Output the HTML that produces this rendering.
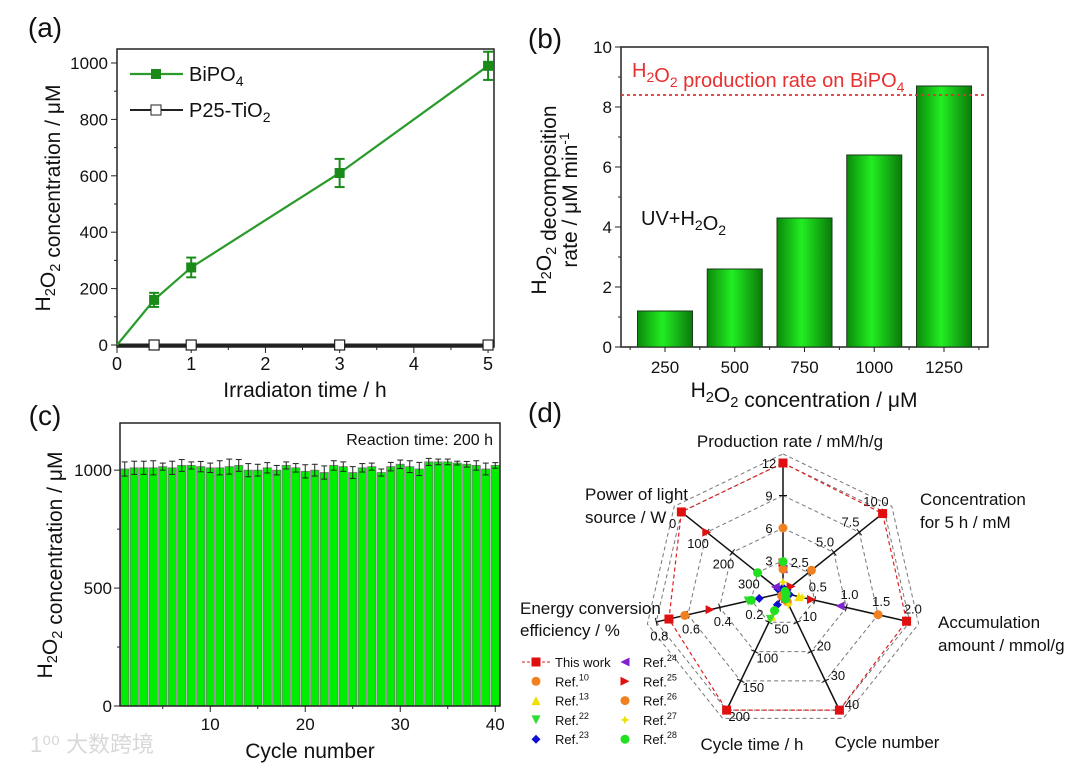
<!DOCTYPE html>
<html><head><meta charset="utf-8">
<style>
html,body{margin:0;padding:0;background:#fff;}
svg{display:block;font-family:"Liberation Sans",Arial,sans-serif;}
</style></head>
<body>
<svg id="fig" width="1080" height="768" viewBox="0 0 1080 768" xmlns="http://www.w3.org/2000/svg">
<defs>
<linearGradient id="barGrad" x1="0" x2="1" y1="0" y2="0">
<stop offset="0" stop-color="#0a8a0a"/><stop offset="0.45" stop-color="#22ee22"/><stop offset="1" stop-color="#0a7a0a"/>
</linearGradient>
</defs>
<g id="pa"></g>
<g id="pb"></g>
<g id="pc"></g>
<g id="pd"></g>
<text x="30" y="752" font-size="22" fill="#d8d8d8" font-family="'Liberation Sans','Noto Sans CJK SC',sans-serif">1⁰⁰ 大数跨境</text>
</svg>
<script>
// ---------- Panel (a) data ----------
const aTimes = [0, 0.5, 1, 3, 5];
const aBiPO4 = [0, 160, 275, 610, 990];
const aBiPO4Err = [0, 25, 35, 50, 50];
const aP25 = [0, 0, 0, 0, 0];
const aXTicks = [0, 1, 2, 3, 4, 5];
const aYTicks = [0, 200, 400, 600, 800, 1000];
// ---------- Panel (b) data ----------
const bCats = [250, 500, 750, 1000, 1250];
const bRates = [1.2, 2.6, 4.3, 6.4, 8.7];
const bRefLine = [8.4];
const bYTicks = [0, 2, 4, 6, 8, 10];
// ---------- Panel (c) data ----------
const cCycles = Array.from({length:40},(_, i)=>i+1);
const cConc = [1005,1010,1010,1010,1015,1010,1020,1020,1015,1010,1010,1015,1020,1000,1000,1010,1000,1020,1010,995,1000,990,1020,1015,990,1010,1015,990,1015,1025,1015,1005,1035,1035,1035,1030,1025,1020,1005,1020];
const cErr = [30,28,28,30,15,28,25,15,22,20,30,32,25,28,25,22,20,15,18,28,25,28,20,20,25,18,15,15,18,18,25,28,15,12,12,8,12,20,25,12];
const cXTicks = [10, 20, 30, 40];
const cYTicks = [0, 500, 1000];
// ---------- Panel (d) data ----------
const dAxes = ["Production rate","Concentration","Accumulation","Cycle number","Cycle time","Energy conversion","Power"];
const dAxisMax = [12, 10, 2, 40, 200, 0.8, 400];
const dThisWork = [12, 9.8, 1.95, 40, 200, 0.72, 0];
const dRef10 = [6, 2.8, 1.5, null, null, 0.62, null];
const dRef13 = [null, null, 0.25, null, 40, null, null];
const dRef22 = [2.2, null, null, null, 45, 0.22, null];
const dRef23 = [0.5, 0.4, 0.1, 0.5, 20, 0.15, 380];
const dRef24 = [2.2, null, 0.9, null, null, null, 370];
const dRef25 = [2.8, 0.8, 0.45, 2, null, 0.46, 100];
const dRef26 = [2.2, null, null, 3, 5, null, null];
const dRef27 = [1.0, null, 0.3, 4, null, null, null];
const dRef28 = [2.9, 0.2, 0.05, 2, 30, 0.2, 300];
const dTickLabels = [["3","6","9","12"],["2.5","5.0","7.5","10.0"],["0.5","1.0","1.5","2.0"],["10","20","30","40"],["50","100","150","200"],["0.2","0.4","0.6","0.8"],["300","200","100","0"]];

const NS="http://www.w3.org/2000/svg";
function mk(parent, tag, attrs, name, inter){
  const e=document.createElementNS(NS,tag);
  for(const k in attrs) e.setAttribute(k, attrs[k]);
  
  
  parent.appendChild(e); return e;
}
function txt(parent, x, y, s, size, name, opts){
  opts=opts||{};
  const t=mk(parent,'text',{x:x,y:y,'font-size':size,fill:opts.fill||'#111','text-anchor':opts.anchor||'middle'},name,false);
  if(opts.rot) t.setAttribute('transform','rotate('+opts.rot+' '+x+' '+y+')');
  t.innerHTML=s; return t;
}
const sub='<tspan font-size="70%" dy="5">2</tspan><tspan dy="-5"></tspan>';
function subn(n){return '<tspan font-size="70%" dy="5">'+n+'</tspan><tspan dy="-5"></tspan>';}

// ===== Panel A =====
(function(){
  const g=document.getElementById('pa');
  const L=117,R=494,T=49,B=347;
  const xs=v=>L+(v-0)/5.08*(R-L);
  const ys=v=>345-(v)*0.282;
  txt(g,45,37,'(a)',28,'panel-label-a');
  mk(g,'rect',{x:L,y:T,width:R-L,height:B-T,fill:'none',stroke:'#222','stroke-width':1.5},'plot-frame-a');
  aXTicks.forEach(v=>{const x=xs(v);
    mk(g,'line',{x1:x,y1:B,x2:x,y2:B+6,stroke:'#222'},'x-tick-a');
    txt(g,x,B+23,String(v),18,'x-tick-label-a');
    if(v<5){const xm=xs(v+0.5);mk(g,'line',{x1:xm,y1:B,x2:xm,y2:B+3,stroke:'#222'},'x-minor-tick-a');}
  });
  aYTicks.forEach(v=>{const y=ys(v);
    mk(g,'line',{x1:L-6,y1:y,x2:L,y2:y,stroke:'#222'},'y-tick-a');
    txt(g,L-9,y+6,String(v),17,'y-tick-label-a',{anchor:'end'});
    if(v<1000){const ym=ys(v+100);mk(g,'line',{x1:L-3,y1:ym,x2:L,y2:ym,stroke:'#222'},'y-minor-tick-a');}
  });
  txt(g,305,397,'Irradiaton time / h',21,'x-axis-title-a');
  txt(g,50,198,'H'+sub+'O'+sub+' concentration / μM',21,'y-axis-title-a',{rot:-90});
  // P25 line
  mk(g,'polyline',{points:aTimes.map((t,i)=>xs(t)+','+ys(aP25[i])).join(' '),fill:'none',stroke:'#222','stroke-width':3},'line-p25');
  aTimes.forEach((t,i)=>{ if(i>0) mk(g,'rect',{x:xs(t)-5,y:ys(aP25[i])-5,width:10,height:10,fill:'#fff',stroke:'#222','stroke-width':1.2},'marker-p25');});
  // BiPO4 smooth line
  let d='M'+xs(0)+','+ys(0);
  for(let i=1;i<aTimes.length;i++){d+=' L'+xs(aTimes[i])+','+ys(aBiPO4[i]);}
  mk(g,'path',{d:d,fill:'none',stroke:'#2a9a2a','stroke-width':2.2},'line-bipo4');
  aTimes.forEach((t,i)=>{
    const x=xs(t),y=ys(aBiPO4[i]),e=aBiPO4Err[i];
    if(i>0){
      mk(g,'line',{x1:x,y1:ys(aBiPO4[i]+e),x2:x,y2:ys(aBiPO4[i]-e),stroke:'#1a8a1a','stroke-width':2},'errorbar-bipo4');
      mk(g,'line',{x1:x-5,y1:ys(aBiPO4[i]+e),x2:x+5,y2:ys(aBiPO4[i]+e),stroke:'#1a8a1a','stroke-width':2},'errorcap-bipo4');
      mk(g,'line',{x1:x-5,y1:ys(aBiPO4[i]-e),x2:x+5,y2:ys(aBiPO4[i]-e),stroke:'#1a8a1a','stroke-width':2},'errorcap-bipo4');
      mk(g,'rect',{x:x-5,y:y-5,width:10,height:10,fill:'#1a8a1a'},'marker-bipo4');
    }
  });
  // legend
  mk(g,'line',{x1:130,y1:74,x2:183,y2:74,stroke:'#2a9a2a','stroke-width':2.2},'legend-line-bipo4');
  mk(g,'rect',{x:151,y:69,width:10,height:10,fill:'#1a8a1a'},'legend-marker-bipo4');
  txt(g,189,81,'BiPO'+subn(4),20,'legend-label-bipo4',{anchor:'start'});
  mk(g,'line',{x1:130,y1:110,x2:183,y2:110,stroke:'#222','stroke-width':2},'legend-line-p25');
  mk(g,'rect',{x:151,y:105,width:10,height:10,fill:'#fff',stroke:'#222'},'legend-marker-p25');
  txt(g,189,117,'P25-TiO'+sub,20,'legend-label-p25',{anchor:'start'});
})();

// ===== Panel B =====
(function(){
  const g=document.getElementById('pb');
  const L=621,R=988,T=47,B=347;
  const xs=v=>665+(v-250)/1000*279;
  const ys=v=>B-v/10*(B-T);
  txt(g,545,48,'(b)',28,'panel-label-b');
  mk(g,'rect',{x:L,y:T,width:R-L,height:B-T,fill:'none',stroke:'#222','stroke-width':1.5},'plot-frame-b');
  bYTicks.forEach(v=>{const y=ys(v);
    mk(g,'line',{x1:L-6,y1:y,x2:L,y2:y,stroke:'#222'},'y-tick-b');
    txt(g,L-9,y+6,String(v),17,'y-tick-label-b',{anchor:'end'});
    if(v<10){mk(g,'line',{x1:L-3,y1:ys(v+1),x2:L,y2:ys(v+1),stroke:'#222'},'y-minor-tick-b');}
  });
  bCats.forEach((c,i)=>{
    const x=xs(c);
    mk(g,'line',{x1:x,y1:B,x2:x,y2:B+5,stroke:'#222'},'x-tick-b');
    txt(g,x,B+26,String(c),17,'x-tick-label-b');
    mk(g,'line',{x1:xs(c-125),y1:B,x2:xs(c-125),y2:B+3,stroke:'#222'},'x-minor-tick-b');
    const w=55;
    mk(g,'rect',{x:x-w/2,y:ys(bRates[i]),width:w,height:ys(0)-ys(bRates[i]),fill:'url(#barGrad)',stroke:'#1a3a1a','stroke-width':1},'bar-'+c);
  });
  mk(g,'line',{x1:xs(1375),y1:B,x2:xs(1375),y2:B+3,stroke:'#222'},'x-minor-tick-b');
  mk(g,'line',{x1:L,y1:ys(bRefLine[0]),x2:R,y2:ys(bRefLine[0]),stroke:'#e83030','stroke-width':1.8,'stroke-dasharray':'3,3'},'reference-line');
  txt(g,632,77,'H'+sub+'O'+sub+' production rate on BiPO'+subn(4),20,'reference-label',{anchor:'start',fill:'#e83030'});
  txt(g,641,225,'UV+H'+sub+'O'+sub,20,'annotation-uv-h2o2',{anchor:'start'});
  txt(g,804,397,'H'+sub+'O'+sub+' concentration / μM',21,'x-axis-title-b');
  txt(g,546,200,'H'+sub+'O'+sub+' decomposition',21,'y-axis-title-b-line1',{rot:-90});
  txt(g,577,200,'rate / μM min<tspan font-size="65%" dy="-8">-1</tspan>',21,'y-axis-title-b-line2',{rot:-90});
})();

// ===== Panel C =====
(function(){
  const g=document.getElementById('pc');
  const L=120,R=500,T=423,B=706;
  const xs=v=>L+(v-0.5)/40*(R-L);
  const ys=v=>B-v/1200*(B-T);
  txt(g,45,425,'(c)',28,'panel-label-c');
  cCycles.forEach((c,i)=>{
    const x=xs(c),w=8.2;
    mk(g,'rect',{x:x-w/2,y:ys(cConc[i]),width:w,height:B-ys(cConc[i]),fill:'#00ee00',stroke:'#777','stroke-width':0.8},'bar-cycle-'+c);
    const y1=ys(cConc[i]+cErr[i]),y2=ys(cConc[i]-cErr[i]);
    mk(g,'line',{x1:x,y1:y1,x2:x,y2:y2,stroke:'#222','stroke-width':1},'errorbar-cycle');
    mk(g,'line',{x1:x-3,y1:y1,x2:x+3,y2:y1,stroke:'#222','stroke-width':1},'errorcap-cycle');
    mk(g,'line',{x1:x-3,y1:y2,x2:x+3,y2:y2,stroke:'#222','stroke-width':1},'errorcap-cycle');
  });
  mk(g,'rect',{x:L,y:T,width:R-L,height:B-T,fill:'none',stroke:'#222','stroke-width':1.5},'plot-frame-c');
  cYTicks.forEach(v=>{const y=ys(v);
    mk(g,'line',{x1:L-6,y1:y,x2:L,y2:y,stroke:'#222'},'y-tick-c');
    txt(g,L-8,y+6,String(v),17,'y-tick-label-c',{anchor:'end'});
    if(v<1000){mk(g,'line',{x1:L-3,y1:ys(v+250),x2:L,y2:ys(v+250),stroke:'#222'},'y-minor-tick-c');}
  });
  cXTicks.forEach(v=>{const x=xs(v);
    mk(g,'line',{x1:x,y1:B,x2:x,y2:B+6,stroke:'#222'},'x-tick-c');
    txt(g,x,B+24,String(v),17,'x-tick-label-c');
    mk(g,'line',{x1:xs(v-5),y1:B,x2:xs(v-5),y2:B+3,stroke:'#222'},'x-minor-tick-c');
  });
  txt(g,493,445,'Reaction time: 200 h',16,'annotation-reaction-time',{anchor:'end'});
  txt(g,310,758,'Cycle number',21,'x-axis-title-c');
  txt(g,52,565,'H'+sub+'O'+sub+' concentration / μM',21,'y-axis-title-c',{rot:-90});
})();

// ===== Panel D (radar) =====
(function(){
  const g=document.getElementById('pd');
  const cx=783,cy=593,Rr=130;
  const ang=i=>(-90+i*360/7)*Math.PI/180;
  const frac=(i,v)=> i===6 ? (400-v)/400 : v/dAxisMax[i];
  const pt=(i,f)=>[cx+Math.cos(ang(i))*Rr*f, cy+Math.sin(ang(i))*Rr*f];
  txt(g,545,422,'(d)',28,'panel-label-d');
  // grid heptagons
  [0.25,0.5,0.75,1.0,1.07].forEach(f=>{
    mk(g,'polygon',{points:dAxes.map((a,i)=>pt(i,f).join(',')).join(' '),fill:'none',stroke:'#777','stroke-width':1,'stroke-dasharray':'4,3'},'radar-grid');
  });
  dAxes.forEach((a,i)=>{
    const p=pt(i,1.0);
    mk(g,'line',{x1:cx,y1:cy,x2:p[0],y2:p[1],stroke:'#111','stroke-width':1.5},'radar-axis-'+i);
    const perp=ang(i)+Math.PI/2;
    for(let k=1;k<=4;k++){
      const q=pt(i,k/4);
      mk(g,'line',{x1:q[0]-Math.cos(perp)*4,y1:q[1]-Math.sin(perp)*4,x2:q[0]+Math.cos(perp)*4,y2:q[1]+Math.sin(perp)*4,stroke:'#111'},'radar-tick');
      const off=perp+Math.PI;
      txt(g,q[0]+Math.cos(off)*14,q[1]+Math.sin(off)*14+5,dTickLabels[i][k-1],13,'radar-tick-label');
    }
  });
  // this work polygon
  mk(g,'polygon',{points:dThisWork.map((v,i)=>pt(i,frac(i,v)).join(',')).join(' '),fill:'none',stroke:'#dd2020','stroke-width':1.2,'stroke-dasharray':'4,3'},'series-this-work');
  function marker(shape,x,y,color,name){
    const s=4.5;let e;
    if(shape==='sq') e=mk(g,'rect',{x:x-s,y:y-s,width:2*s,height:2*s,fill:color},name);
    else if(shape==='ci') e=mk(g,'circle',{cx:x,cy:y,r:s,fill:color},name);
    else{
      const P={up:[[0,-s],[s,s],[-s,s]],dn:[[0,s],[s,-s],[-s,-s]],di:[[0,-s],[s,0],[0,s],[-s,0]],lt:[[-s,0],[s,-s],[s,s]],rt:[[s,0],[-s,-s],[-s,s]],st:[[0,-s],[s*0.3,-s*0.3],[s,0],[s*0.3,s*0.3],[0,s],[-s*0.3,s*0.3],[-s,0],[-s*0.3,-s*0.3]]}[shape];
      e=mk(g,'polygon',{points:P.map(p=>(x+p[0])+','+(y+p[1])).join(' '),fill:color},name);
    }
    return e;
  }
  const series=[
    [dThisWork,'sq','#e01010','marker-this-work'],
    [dRef10,'ci','#f08020','marker-ref10'],
    [dRef13,'up','#f0e000','marker-ref13'],
    [dRef22,'dn','#30dd30','marker-ref22'],
    [dRef23,'di','#1010d0','marker-ref23'],
    [dRef24,'lt','#8020d0','marker-ref24'],
    [dRef25,'rt','#e01010','marker-ref25'],
    [dRef26,'ci','#f08020','marker-ref26'],
    [dRef27,'st','#f0e000','marker-ref27'],
    [dRef28,'ci','#20e020','marker-ref28']
  ];
  series.forEach(s=>{ s[0].forEach((v,i)=>{ if(v===null) return; const p=pt(i,frac(i,v)); marker(s[1],p[0],p[1],s[2],s[3]); }); });
  // axis titles
  txt(g,790,447,'Production rate / mM/h/g',17,'radar-title-production');
  txt(g,920,505,'Concentration',17,'radar-title-concentration',{anchor:'start'});
  txt(g,920,528,'for 5 h / mM',17,'radar-title-concentration-2',{anchor:'start'});
  txt(g,938,628,'Accumulation',17,'radar-title-accumulation',{anchor:'start'});
  txt(g,938,651,'amount / mmol/g',17,'radar-title-accumulation-2',{anchor:'start'});
  txt(g,887,748,'Cycle number',17,'radar-title-cycle-number');
  txt(g,752,750,'Cycle time / h',17,'radar-title-cycle-time');
  txt(g,520,614,'Energy conversion',17,'radar-title-energy',{anchor:'start'});
  txt(g,520,636,'efficiency / %',17,'radar-title-energy-2',{anchor:'start'});
  txt(g,585,500,'Power of light',17,'radar-title-power',{anchor:'start'});
  txt(g,585,523,'source / W',17,'radar-title-power-2',{anchor:'start'});
  // legend
  const legendItems=[['This work','sq','#e01010'],['Ref.<tspan font-size="70%" dy="-6">10</tspan>','ci','#f08020'],['Ref.<tspan font-size="70%" dy="-6">13</tspan>','up','#f0e000'],['Ref.<tspan font-size="70%" dy="-6">22</tspan>','dn','#30dd30'],['Ref.<tspan font-size="70%" dy="-6">23</tspan>','di','#1010d0'],
    ['Ref.<tspan font-size="70%" dy="-6">24</tspan>','lt','#8020d0'],['Ref.<tspan font-size="70%" dy="-6">25</tspan>','rt','#e01010'],['Ref.<tspan font-size="70%" dy="-6">26</tspan>','ci','#f08020'],['Ref.<tspan font-size="70%" dy="-6">27</tspan>','st','#f0e000'],['Ref.<tspan font-size="70%" dy="-6">28</tspan>','ci','#20e020']];
  legendItems.forEach((it,k)=>{
    const col=Math.floor(k/5),row=k%5;
    const mx=col?625:536,y=662+row*19.3;
    if(k===0) mk(g,'line',{x1:522,y1:y,x2:552,y2:y,stroke:'#dd2020','stroke-dasharray':'3,2'},'legend-line-this-work');
    marker(it[1],mx,y,it[2],'legend-marker');
    txt(g,col?643:555,y+5,it[0],13,'legend-label',{anchor:'start'});
  });
})();
</script>
</body></html>
